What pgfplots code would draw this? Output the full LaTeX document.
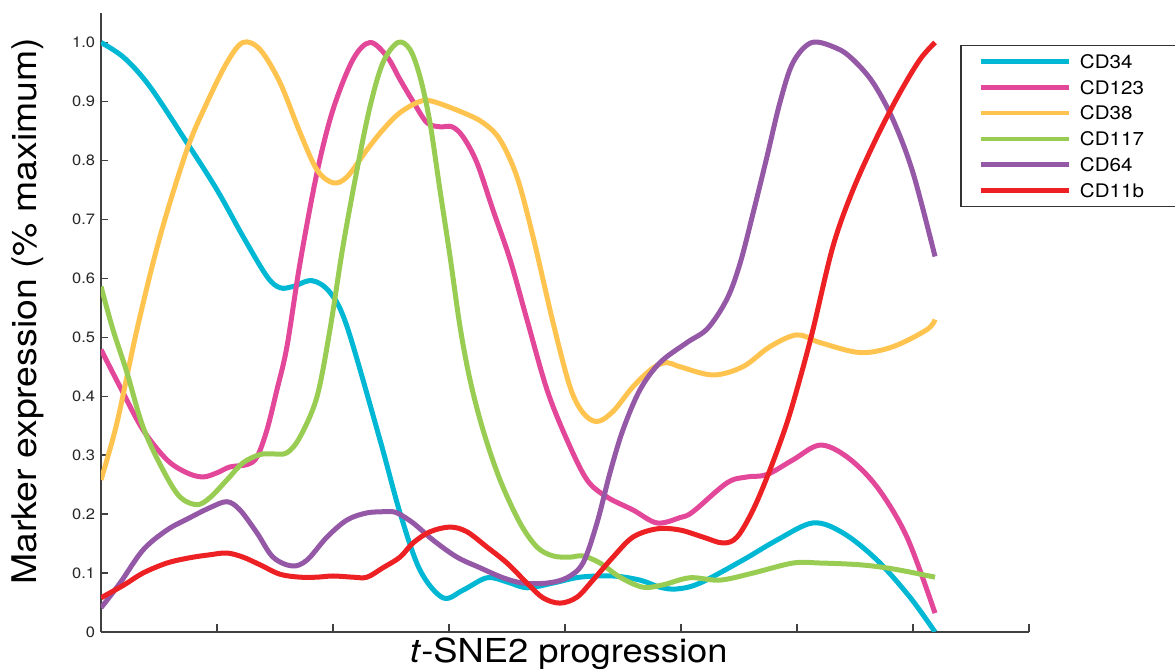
\documentclass[border=0pt]{standalone}
\usepackage{fontspec}
\setmainfont{TeX Gyre Heros}[FakeStretch=1.1]
\usepackage{pgfplots}
\pgfplotsset{compat=1.18}

\definecolor{cdcyan}{RGB}{0,184,212}
\definecolor{cdpink}{RGB}{226,71,153}
\definecolor{cdyellow}{RGB}{255,196,80}
\definecolor{cdgreen}{RGB}{152,204,82}
\definecolor{cdpurple}{RGB}{148,88,166}
\definecolor{cdred}{RGB}{237,32,36}

% legend labels sit in a wide box: the legend frame runs on past the right edge
\newcommand{\legtext}[1]{\makebox[75pt][l]{#1}}

\begin{document}
\begin{tikzpicture}
\useasboundingbox (-50.5pt,-18.5pt) rectangle (537pt,316pt);
\begin{axis}[
  width=464pt, height=309.5pt, scale only axis,
  xmin=0, xmax=8, ymin=0, ymax=1.05,
  axis lines=left,
  axis line style={-, black!75, line width=0.65pt},
  xtick={0,1,2,3,4,5,6,7,8}, xticklabels={},
  ytick={0,0.1,0.2,0.3,0.4,0.5,0.6,0.7,0.8,0.9,1.0},
  yticklabels={0,0.1,0.2,0.3,0.4,0.5,0.6,0.7,0.8,0.9,1.0},
  tick align=inside, major tick length=3.75pt,
  tick style={black!75, line width=0.65pt},
  /pgf/number format/assume math mode=true,
  every tick label/.append style={font=\fontsize{7.5}{9}\selectfont, text=black!85},
  yticklabel style={inner sep=0pt, xshift=-2.75pt},
  xlabel={\textit{t}-SNE2 progression},
  xlabel style={at={(axis description cs:0.504,-0.0485)}, anchor=base,
    font=\fontsize{16.5}{18}\selectfont},
  ylabel={Marker expression (\% maximum)},
  ylabel style={at={(axis description cs:-0.069,0.518)}, anchor=base,
    font=\fontsize{17}{19}\selectfont},
  legend style={name=leg, at={(axis description cs:0.9267,0.948)}, anchor=north west,
    draw=none, fill=white,
    inner xsep=8.5pt, inner ysep=1.5pt, row sep=0pt, column sep=4.5pt,
    nodes={inner xsep=0pt, inner ysep=1.95pt, text height=7.9pt, text depth=1.1pt,
      font=\fontsize{9.35}{11}\selectfont}},
  legend cell align=left,
  legend image code/.code={\draw[#1, line width=2.3pt] (0pt,0pt) -- (44pt,0pt);},
  every axis plot/.append style={line width=2.5pt, smooth, tension=0.55, line join=round},
]

% CD34
\addplot[cdcyan] coordinates {
(0,1.0) (0.2,0.974) (0.422,0.925) (0.741,0.830) (1.0,0.750) (1.224,0.671)
(1.431,0.603) (1.543,0.584) (1.655,0.586) (1.819,0.596) (1.974,0.576)
(2.121,0.518) (2.405,0.326) (2.578,0.202) (2.75,0.105) (2.948,0.058)
(3.121,0.071) (3.328,0.092) (3.5,0.085) (3.672,0.075) (3.897,0.083)
(4.129,0.093) (4.414,0.095) (4.647,0.088) (4.819,0.076) (4.966,0.073)
(5.164,0.083) (5.534,0.122) (5.828,0.156) (6.138,0.185) (6.397,0.168)
(6.690,0.122) (6.974,0.059) (7.190,0.0)
};
\addlegendentry{\legtext{CD34}}

% CD123
\addplot[cdpink] coordinates {
(0,0.479) (0.164,0.416) (0.362,0.343) (0.569,0.292) (0.741,0.270) (0.879,0.263)
(1.0,0.270) (1.112,0.280) (1.259,0.284) (1.345,0.297) (1.431,0.343) (1.517,0.411)
(1.603,0.484) (1.716,0.626) (1.862,0.779) (2.0,0.886) (2.172,0.971) (2.319,1.0)
(2.466,0.976) (2.578,0.937) (2.690,0.900) (2.810,0.864) (2.922,0.857) (3.026,0.857)
(3.121,0.840) (3.241,0.796) (3.379,0.716) (3.526,0.632) (3.672,0.530) (3.845,0.411)
(4.017,0.326) (4.190,0.258) (4.362,0.229) (4.586,0.207) (4.793,0.185) (4.991,0.194)
(5.103,0.204) (5.397,0.253) (5.569,0.263) (5.741,0.267) (5.966,0.292) (6.198,0.317)
(6.431,0.297) (6.690,0.246) (6.948,0.161) (7.190,0.032)
};
\addlegendentry{\legtext{CD123}}

% CD38
\addplot[cdyellow] coordinates {
(0,0.258) (0.138,0.355) (0.310,0.513) (0.509,0.671) (0.741,0.818) (0.914,0.898)
(1.086,0.966) (1.224,1.0) (1.371,0.988) (1.543,0.932) (1.716,0.847) (1.862,0.784)
(2.0,0.762) (2.121,0.772) (2.293,0.818) (2.431,0.852) (2.578,0.881) (2.750,0.900)
(2.862,0.900) (3.121,0.881) (3.293,0.864) (3.440,0.835) (3.586,0.772) (3.724,0.671)
(3.897,0.525) (4.043,0.416) (4.155,0.372) (4.276,0.357) (4.414,0.374) (4.586,0.416)
(4.759,0.448) (4.879,0.457) (4.991,0.450) (5.276,0.436) (5.534,0.450) (5.767,0.484)
(6.0,0.504) (6.198,0.491) (6.543,0.474) (6.828,0.484) (7.121,0.513) (7.190,0.530)
};
\addlegendentry{\legtext{CD38}}

% CD117
\addplot[cdgreen] coordinates {
(0,0.586) (0.103,0.513) (0.224,0.440) (0.362,0.348) (0.534,0.275) (0.681,0.229)
(0.828,0.216) (0.940,0.228) (1.086,0.258) (1.224,0.287) (1.371,0.301) (1.483,0.302)
(1.603,0.304) (1.716,0.331) (1.862,0.399) (1.974,0.513) (2.086,0.654) (2.207,0.784)
(2.319,0.891) (2.431,0.966) (2.560,1.0) (2.664,0.988) (2.750,0.942) (2.836,0.864)
(2.922,0.750) (3.009,0.637) (3.095,0.518) (3.181,0.428) (3.293,0.343) (3.440,0.258)
(3.612,0.185) (3.759,0.144) (3.897,0.129) (4.043,0.127) (4.155,0.129) (4.302,0.117)
(4.474,0.093) (4.672,0.076) (4.845,0.080) (5.078,0.092) (5.336,0.088) (5.621,0.100)
(5.966,0.117) (6.198,0.117) (6.543,0.114) (6.828,0.107) (7.190,0.093)
};
\addlegendentry{\legtext{CD117}}

% CD64
\addplot[cdpurple] coordinates {
(0,0.041) (0.164,0.083) (0.362,0.139) (0.569,0.173) (0.767,0.194) (0.940,0.211)
(1.086,0.221) (1.198,0.207) (1.345,0.168) (1.483,0.127) (1.647,0.112) (1.776,0.122)
(1.948,0.161) (2.121,0.190) (2.293,0.202) (2.466,0.204) (2.552,0.202) (2.690,0.185)
(2.862,0.156) (3.069,0.127) (3.267,0.109) (3.466,0.092) (3.638,0.083) (3.845,0.083)
(4.017,0.092) (4.155,0.117) (4.276,0.185) (4.388,0.270) (4.5,0.343) (4.647,0.411)
(4.819,0.457) (5.052,0.491) (5.230,0.515) (5.397,0.565) (5.509,0.625) (5.621,0.710)
(5.741,0.806) (5.853,0.898) (5.966,0.966) (6.129,1.0) (6.345,0.990) (6.483,0.971)
(6.655,0.932) (6.828,0.869) (7.0,0.779) (7.190,0.637)
};
\addlegendentry{\legtext{CD64}}

% CD11b
\addplot[cdred] coordinates {
(0,0.058) (0.2,0.080) (0.362,0.100) (0.569,0.117) (0.767,0.126) (0.940,0.131)
(1.086,0.134) (1.224,0.127) (1.371,0.114) (1.543,0.098) (1.716,0.093) (1.862,0.093)
(2.0,0.095) (2.172,0.093) (2.293,0.093) (2.431,0.109) (2.578,0.127) (2.690,0.151)
(2.836,0.170) (3.009,0.178) (3.155,0.170) (3.328,0.144) (3.5,0.117) (3.672,0.083)
(3.810,0.058) (3.957,0.049) (4.103,0.059) (4.241,0.088) (4.414,0.127) (4.586,0.161)
(4.793,0.175) (4.991,0.173) (5.190,0.161) (5.362,0.151) (5.483,0.161) (5.621,0.207)
(5.767,0.275) (5.914,0.355) (6.026,0.430) (6.138,0.513) (6.310,0.654) (6.483,0.750)
(6.690,0.840) (6.888,0.915) (7.060,0.971) (7.190,1.0)
};
\addlegendentry{\legtext{CD11b}}

\end{axis}
% legend frame: top, left and bottom sides (the right side lies off the page)
\draw[black!80, line width=0.6pt] (leg.north east) -- (leg.north west)
  -- (leg.south west) -- (leg.south east);
\end{tikzpicture}
\end{document}
